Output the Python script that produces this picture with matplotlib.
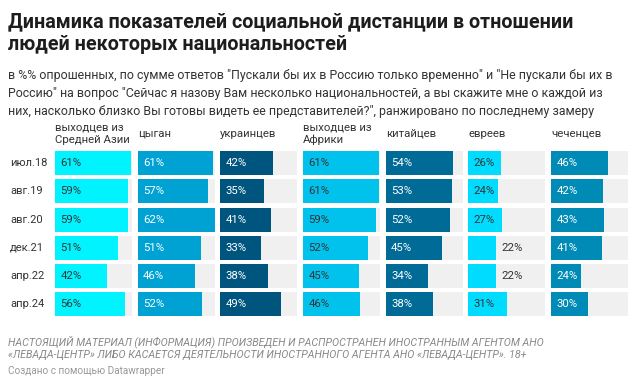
import matplotlib
matplotlib.use("Agg")
import matplotlib.pyplot as plt

plt.rcParams['font.family'] = ['Roboto', 'DejaVu Sans']

W, H = 642, 386

dates = ["июл.18", "авг.19", "авг.20", "дек.21", "апр.22", "апр.24"]
groups = ["выходцев из\nСредней Азии", "цыган", "украинцев", "выходцев из\nАфрики",
          "китайцев", "евреев", "чеченцев"]
central_asia = [61, 59, 59, 51, 42, 56]
gypsies = [61, 57, 62, 51, 46, 52]
ukrainians = [42, 35, 41, 33, 38, 49]
africa = [61, 61, 59, 52, 45, 46]
chinese = [54, 53, 52, 45, 34, 38]
jews = [26, 24, 27, 22, 22, 31]
chechens = [46, 42, 43, 41, 24, 30]
series = [central_asia, gypsies, ukrainians, africa, chinese, jews, chechens]

colors = ["#00f3ff", "#00a2d4", "#00557f", "#00c2ed", "#006b96", "#00dcff", "#008bb7"]
dark_text = [True, False, False, True, False, True, False]
xmax = 62

fig = plt.figure(figsize=(W / 100, H / 100), dpi=100)
fig.patch.set_facecolor("white")

def fx(px):
    return px / W

def fy(py):
    return 1 - py / H

fig.text(fx(8), fy(22), "Динамика показателей социальной дистанции в отношении",
         fontsize=14.2, fontweight="bold", color="#1d1d1d", va="center")
fig.text(fx(8), fy(45), "людей некоторых национальностей",
         fontsize=14.2, fontweight="bold", color="#1d1d1d", va="center")

subtitle = ['в %% опрошенных, по сумме ответов "Пускали бы их в Россию только временно" и "Не пускали бы их в',
            'Россию" на вопрос "Сейчас я назову Вам несколько национальностей, а вы скажите мне о каждой из',
            'них, насколько близко Вы готовы видеть ее представителей?", ранжировано по последнему замеру']
for i, line in enumerate(subtitle):
    fig.text(fx(8), fy(76 + i * 18), line, fontsize=8.9, color="#333333", va="center")

# panels
top, bottom = 149, 318.5
pw = 77
step = 82.67
for j, (name, vals) in enumerate(zip(groups, series)):
    left = 55 + j * step
    ax = fig.add_axes([fx(left), fy(bottom), pw / W, (bottom - top) / H])
    ax.set_xlim(0, xmax)
    ax.set_ylim(len(dates) - 0.5, -0.5)
    ax.axis("off")
    ypos = range(len(dates))
    ax.barh(ypos, [xmax] * len(dates), height=0.85, color="#f0f0f0", lw=0)
    ax.barh(ypos, vals, height=0.85, color=colors[j], lw=0)
    for i, v in enumerate(vals):
        if v < 23:
            ax.annotate(f"{v}%", (v, i), xytext=(4, 0), textcoords="offset points",
                        va="center", ha="left", fontsize=8.2, color="#333333")
        else:
            ax.annotate(f"{v}%", (0, i), xytext=(3.8, 0), textcoords="offset points",
                        va="center", ha="left", fontsize=8.2,
                        color="#333333" if dark_text[j] else "white")
    fig.text(fx(left), fy(134), name, fontsize=8.2, color="#333333",
             va="center", ha="left", linespacing=1.25)

for i, d in enumerate(dates):
    fig.text(fx(10), fy(163.3 + i * 28.2), d, fontsize=8.0, color="#333333", va="center")

note = ["НАСТОЯЩИЙ МАТЕРИАЛ (ИНФОРМАЦИЯ) ПРОИЗВЕДЕН И РАСПРОСТРАНЕН ИНОСТРАННЫМ АГЕНТОМ АНО",
        "«ЛЕВАДА-ЦЕНТР» ЛИБО КАСАЕТСЯ ДЕЯТЕЛЬНОСТИ ИНОСТРАННОГО АГЕНТА АНО «ЛЕВАДА-ЦЕНТР». 18+"]
for i, line in enumerate(note):
    fig.text(fx(8), fy(342 + i * 12.5), line, fontsize=7.7, style="italic",
             color="#888888", va="center")
fig.text(fx(8), fy(371), "Создано с помощью Datawrapper", fontsize=7.2,
         color="#999999", va="center")

fig.savefig("out.png", dpi=100, facecolor="white")
